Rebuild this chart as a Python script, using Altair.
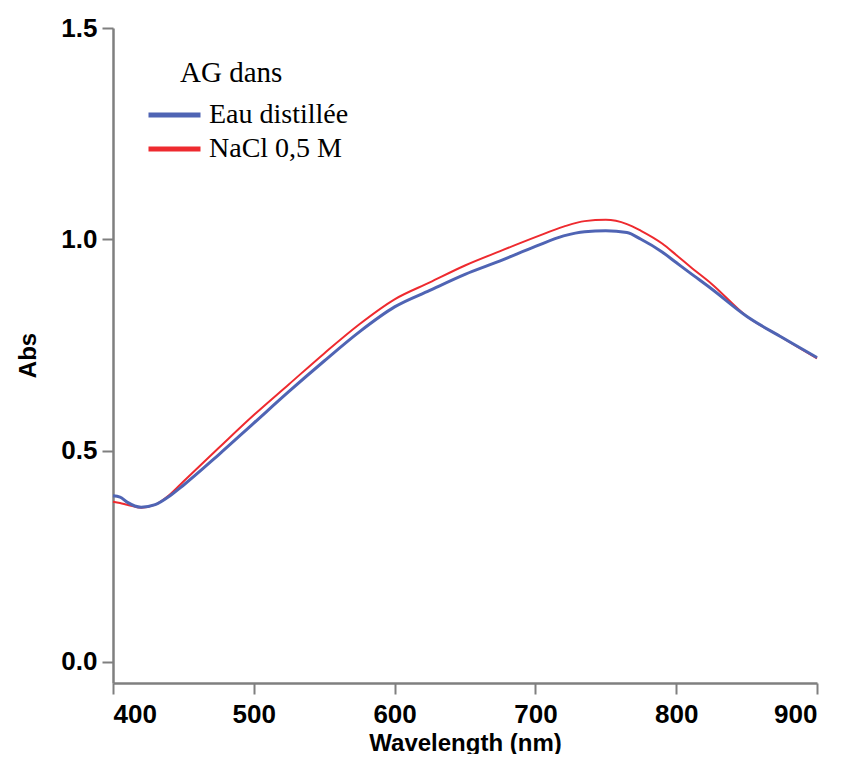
import altair as alt
import pandas as pd

wavelength = [400, 405, 410, 420, 430, 440, 450, 475, 500, 525, 550, 575, 600, 625, 650,
              675, 700, 720, 735, 750, 765, 775, 790, 800, 810, 825, 850, 875, 900]
eau = [0.393, 0.390, 0.378, 0.366, 0.372, 0.392, 0.418, 0.490, 0.565, 0.640, 0.712, 0.781,
       0.840, 0.879, 0.917, 0.949, 0.983, 1.008, 1.018, 1.020, 1.016, 1.000, 0.970, 0.945,
       0.920, 0.883, 0.818, 0.768, 0.720]
nacl = [0.379, 0.376, 0.372, 0.365, 0.372, 0.395, 0.427, 0.506, 0.584, 0.657, 0.730, 0.799,
        0.858, 0.898, 0.938, 0.972, 1.005, 1.030, 1.043, 1.046, 1.036, 1.020, 0.990, 0.963,
        0.935, 0.895, 0.818, 0.768, 0.718]
series = ["Eau distillée", "NaCl 0,5 M"]
colors = ["#4f64b4", "#ee2a2f"]
x_ticks = [400, 500, 600, 700, 800, 900]
y_ticks = [0.0, 0.5, 1.0, 1.5]

rows = []
for w, v in zip(wavelength, eau):
    rows.append({"wl": w, "abs": v, "s": series[0]})
for w, v in zip(wavelength, nacl):
    rows.append({"wl": w, "abs": v, "s": series[1]})
df = pd.DataFrame(rows)

xenc = alt.X("wl:Q", scale=alt.Scale(domain=[400, 900], nice=False, zero=False),
             axis=alt.Axis(values=x_ticks, format="d", title="Wavelength (nm)",
                           titleX=352, titleY=67, titleBaseline="alphabetic",
                           titleAnchor="middle", titleAlign="center"))
yenc = alt.Y("abs:Q", scale=alt.Scale(domain=[-0.05, 1.5], nice=False, zero=False),
             axis=alt.Axis(values=y_ticks, format=".1f", title="Abs",
                           titleX=-78, titleY=327, titleBaseline="alphabetic",
                           titleAngle=270, titleAlign="center"))
color = alt.Color("s:N", scale=alt.Scale(domain=series, range=colors),
                  legend=alt.Legend(title=None, orient="none", legendX=33, legendY=70,
                                    symbolType="stroke", symbolSize=2704,
                                    symbolStrokeWidth=5, labelFont="Liberation Serif",
                                    labelFontSize=28, labelColor="black",
                                    labelOffset=6, rowPadding=0, clipHeight=34))

base = alt.Chart(df)
red_line = base.transform_filter(alt.datum.s == series[1]).mark_line(
    strokeWidth=2, interpolate="monotone").encode(x=xenc, y=yenc, color=color)
blue_line = base.transform_filter(alt.datum.s == series[0]).mark_line(
    strokeWidth=3, interpolate="monotone").encode(x=xenc, y=yenc, color=color)

title_df = pd.DataFrame({"t": ["AG dans"]})
legend_title = alt.Chart(title_df).mark_text(
    font="Liberation Serif", fontSize=29, align="left", baseline="middle", color="black"
).encode(x=alt.value(67), y=alt.value(45), text="t:N")

chart = alt.layer(red_line, blue_line, legend_title).properties(
    width=704, height=655,
    autosize=alt.AutoSizeParams(type="none"),
    padding={"left": 105, "top": 20, "right": 16, "bottom": 71},
).configure_view(stroke=None).configure_axis(
    grid=False, domainColor="#7f7f7f", domainWidth=2.5, tickColor="#7f7f7f",
    tickWidth=2, tickSize=11, labelFont="Liberation Sans", labelFontWeight="bold",
    labelFontSize=26, labelColor="black", titleFont="Liberation Sans",
    titleFontWeight="bold", titleFontSize=24, titleColor="black",
).configure_axisY(labelPadding=5).configure_axisX(labelPadding=7)

chart.save("out.html", embed_options={"renderer": "svg", "actions": False})
